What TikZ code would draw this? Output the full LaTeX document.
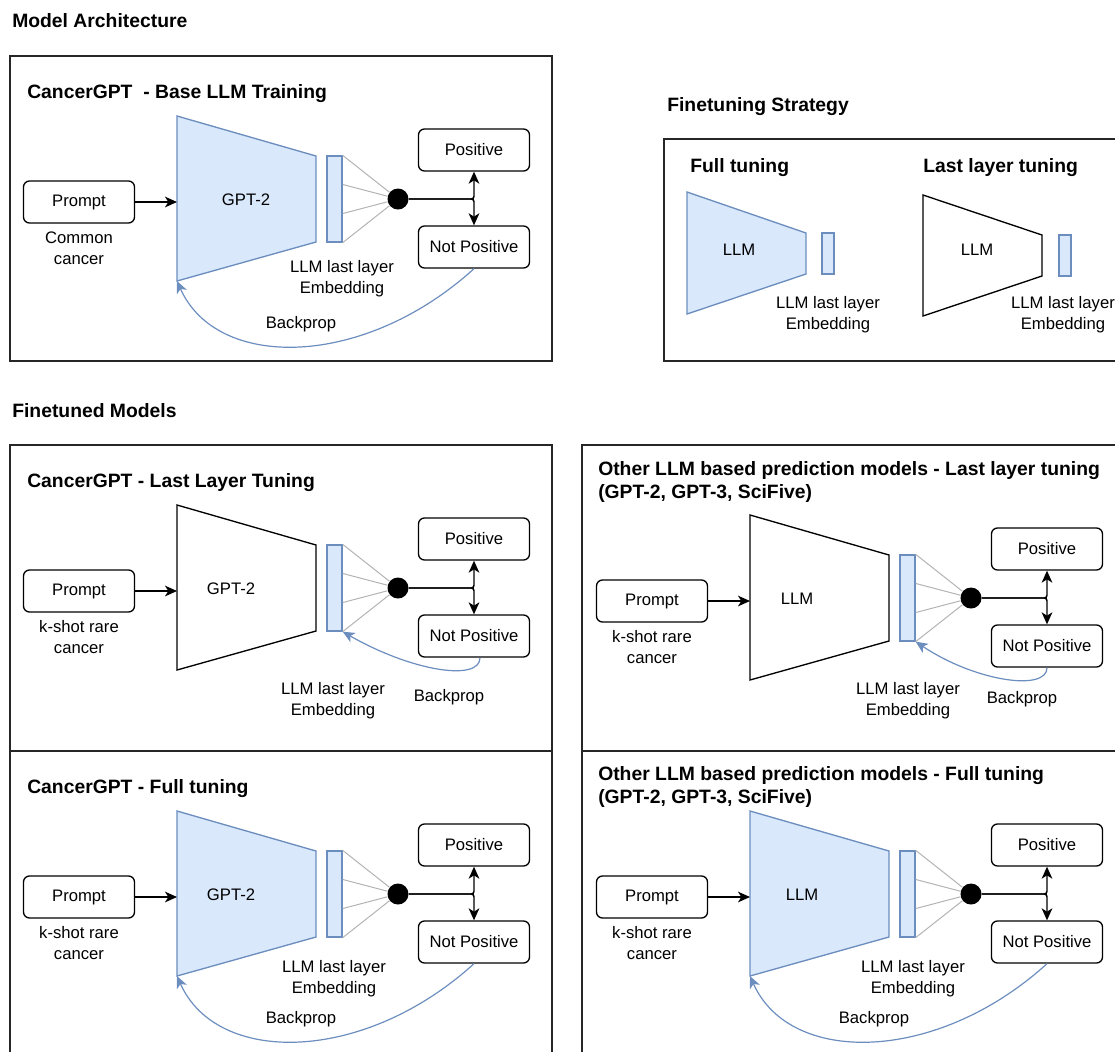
\documentclass[tikz,border=0pt]{standalone}
\usepackage{fontspec}
\setmainfont{Liberation Sans}
\usetikzlibrary{arrows.meta, positioning, calc}

\definecolor{llmFill}{HTML}{DAE8FC}
\definecolor{llmEdge}{HTML}{6C8EBF}
\definecolor{fanGray}{HTML}{B3B3B3}

% one prediction row: prompt -> model -> last layer -> output classes
\newcommand{\ModelRow}[5]{
    \node[roundBox] (#1prompt) at (79,202) {Prompt};
    \draw[#2] (177,116) -- (316,156) -- (316,242) -- (177,281) coordinate (#1bl) -- cycle;
    \coordinate (#1in) at (177,202);
    \node[bodyText] (#1name) at (#4,200) {#3};
    \node[bodyText] (#1cap) at (79,248) {#5};
    \node[embBox] (#1emb) at (334.5,199) {};
    \node[outDot] (#1dot) at (398,199) {};
    \node[roundBox] (#1pos) at (474,150) {Positive};
    \node[roundBox] (#1neg) at (474,247) {Not Positive};
    \draw[flowArrow] (#1prompt) -- (#1in);
    \foreach \k in {0,...,3}
        \draw[fanLine] ($(#1emb.north east)!\k/3!(#1emb.south east)$) -- (#1dot);
    \draw[flowArrow, rounded corners=2pt] (#1dot) -| (#1pos);
    \draw[flowArrow, rounded corners=2pt] (#1dot) -| (#1neg);
}

\tikzset{
    % Text
    headText/.style={font=\fontsize{14.5}{17}\selectfont\bfseries, anchor=base west, inner sep=0pt},
    bodyText/.style={font=\fontsize{12.5}{15.5}\selectfont, align=center, inner sep=0pt},
    % Boxes
    panelBox/.style={draw=black!85, line width=1pt},
    roundBox/.style={rectangle, rounded corners=4.5pt, draw=black, line width=1pt,
        minimum width=83.25pt, minimum height=31.5pt, font=\fontsize{12.5}{15.5}\selectfont},
    embBox/.style={rectangle, draw=llmEdge, fill=llmFill, line width=1pt,
        minimum width=11.25pt, minimum height=64.5pt, inner sep=0pt},
    embSmall/.style={embBox, minimum width=9pt, minimum height=30.75pt},
    outDot/.style={circle, fill=black, minimum size=15.75pt, inner sep=0pt},
    trapFull/.style={draw=llmEdge, fill=llmFill, line width=1pt},
    trapFrozen/.style={draw=black, fill=white, line width=1pt},
    % Lines
    flowArrow/.style={-{Stealth[length=9pt, width=8pt, inset=2.5pt]}, line width=1.1pt},
    fanLine/.style={draw=fanGray, line width=0.75pt},
    backArrow/.style={-{Stealth[length=9pt, width=8pt, inset=2.5pt]}, draw=llmEdge, line width=0.9pt}
}

\begin{document}
\begin{tikzpicture}[x=0.75pt, y=-0.75pt]
    \useasboundingbox (0,0) rectangle (1115,1051);
    \clip (0,0) rectangle (1115,1051);

    % Section headings
    \node[headText] (archhead) at (12,27) {Model Architecture};
    \node[headText] (stratHead) at (667,111) {Finetuning Strategy};
    \node[headText] (tunedHead) at (12,417) {Finetuned Models};

    % Panels
    \draw[panelBox] (10,56) rectangle (552,361);
    \draw[panelBox] (664,139) rectangle (1130,361);
    \draw[panelBox] (10,445) rectangle (552,751);
    \draw[panelBox] (10,751) rectangle (552,1070);
    \draw[panelBox] (582,445) rectangle (1130,751);
    \draw[panelBox] (582,751) rectangle (1130,1070);

    % Base LLM training
    \node[headText] (baseTitle) at (27,98) {CancerGPT\ \ - Base LLM Training};
    \ModelRow{ba}{trapFull}{GPT-2}{246}{Common\\cancer}
    \node[bodyText] (baemblbl) at (342,278.5) {LLM last layer\\Embedding};
    \draw[backArrow] (baneg.south) .. controls ($(baneg.south)+(-110,100)$) and ($(babl)+(40,90)$) .. (babl);
    \node[bodyText] (babp) at (301,324) {Backprop};

    % Finetuning strategy
    \node[headText] (fullHead) at (690,172) {Full tuning};
    \node[headText] (lastHead) at (923,172) {Last layer tuning};
    \draw[trapFull] (687,192) -- (806,233) -- (806,274) -- (687,314) -- cycle;
    \node[bodyText] (fsllm) at (739,250) {LLM};
    \node[embSmall] (fsemb) at (828,253.5) {};
    \node[bodyText] (fsemblbl) at (828,315) {LLM last layer\\Embedding};
    \draw[trapFrozen] (923,195) -- (1042,235) -- (1042,276) -- (923,316) -- cycle;
    \node[bodyText] (lsllm) at (977,250) {LLM};
    \node[embSmall] (lsemb) at (1065,255.5) {};
    \node[bodyText] (lsemblbl) at (1063,315) {LLM last layer\\Embedding};

    % CancerGPT - last layer tuning
    \begin{scope}[shift={(0,389)}]
        \node[headText] (ltTitle) at (27,98) {CancerGPT - Last Layer Tuning};
        \ModelRow{lt}{trapFrozen}{GPT-2}{231}{k-shot rare\\cancer}
        \node[bodyText] (ltemblbl) at (333,312) {LLM last layer\\Embedding};
        \draw[backArrow] ([xshift=4.5pt]ltneg.south) .. controls ($([xshift=4.5pt]ltneg.south)+(0,24)$) and ($(ltemb.south east)+(70,40)$) .. (ltemb.south east);
        \node[bodyText] (ltbp) at (449,308) {Backprop};
    \end{scope}

    % CancerGPT - full tuning
    \begin{scope}[shift={(0,695)}]
        \node[headText] (ftTitle) at (27,98) {CancerGPT - Full tuning};
        \ModelRow{ft}{trapFull}{GPT-2}{231}{k-shot rare\\cancer}
        \node[bodyText] (ftemblbl) at (334,284) {LLM last layer\\Embedding};
        \draw[backArrow] (ftneg.south) .. controls ($(ftneg.south)+(-110,100)$) and ($(ftbl)+(40,90)$) .. (ftbl);
        \node[bodyText] (ftbp) at (301,324) {Backprop};
    \end{scope}

    % Other LLMs - last layer tuning
    \begin{scope}[shift={(573,399)}]
        \node[headText] (olTitle) at (25,76) {Other LLM based prediction models - Last layer tuning};
        \node[headText] (olTitleB) at (25,99) {(GPT-2, GPT-3, SciFive)};
        \ModelRow{ol}{trapFrozen}{LLM}{224}{k-shot rare\\cancer}
        \node[bodyText] (olemblbl) at (335,302) {LLM last layer\\Embedding};
        \draw[backArrow] (olneg.south) .. controls ($(olneg.south)+(0,24)$) and ($(olemb.south east)+(60,40)$) .. (olemb.south east);
        \node[bodyText] (olbp) at (449,300) {Backprop};
    \end{scope}

    % Other LLMs - full tuning
    \begin{scope}[shift={(573,695)}]
        \node[headText] (ofTitle) at (25,85) {Other LLM based prediction models - Full tuning};
        \node[headText] (ofTitleB) at (25,108) {(GPT-2, GPT-3, SciFive)};
        \ModelRow{of}{trapFull}{LLM}{229}{k-shot rare\\cancer}
        \node[bodyText] (ofemblbl) at (340,284) {LLM last layer\\Embedding};
        \draw[backArrow] (ofneg.south) .. controls ($(ofneg.south)+(-110,100)$) and ($(ofbl)+(40,90)$) .. (ofbl);
        \node[bodyText] (ofbp) at (301,324) {Backprop};
    \end{scope}
\end{tikzpicture}
\end{document}
